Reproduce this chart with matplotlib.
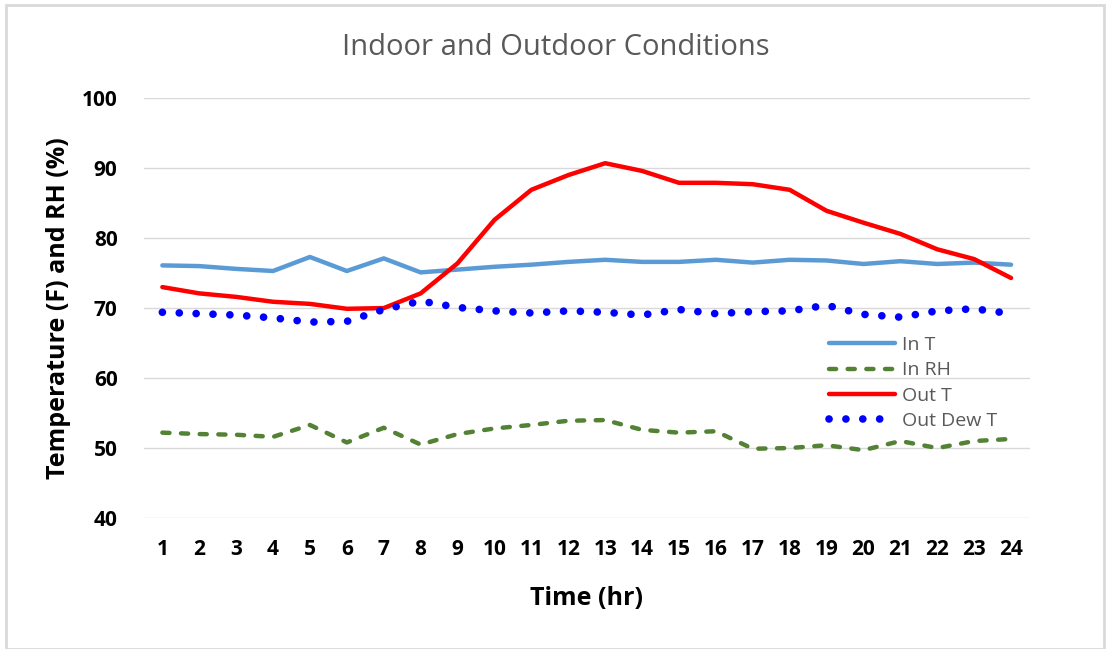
import matplotlib
matplotlib.use("Agg")
import matplotlib.pyplot as plt
from matplotlib.patches import Rectangle

hours = list(range(1, 25))
in_t = [76.1, 76.0, 75.6, 75.3, 77.3, 75.3, 77.1, 75.1, 75.5, 75.9, 76.2, 76.6,
        76.9, 76.6, 76.6, 76.9, 76.5, 76.9, 76.8, 76.3, 76.7, 76.3, 76.5, 76.2]
in_rh = [52.2, 52.0, 51.9, 51.6, 53.3, 50.8, 52.9, 50.5, 52.0, 52.8, 53.3, 53.9,
         54.0, 52.6, 52.2, 52.4, 49.9, 50.0, 50.4, 49.7, 51.0, 50.0, 51.0, 51.3]
out_t = [73.0, 72.1, 71.6, 70.9, 70.6, 69.9, 70.0, 72.1, 76.4, 82.6, 86.9, 89.0,
         90.7, 89.6, 87.9, 87.9, 87.7, 86.9, 83.9, 82.2, 80.6, 78.4, 77.0, 74.3]
out_dew = [69.4, 69.2, 69.0, 68.6, 68.0, 68.1, 69.8, 71.0, 70.1, 69.6, 69.3, 69.6,
           69.4, 69.0, 69.8, 69.2, 69.5, 69.6, 70.4, 69.1, 68.7, 69.6, 69.9, 69.2]
yticks = [40, 50, 60, 70, 80, 90, 100]

plt.rcParams['font.family'] = ['Open Sans', 'DejaVu Sans']

fig = plt.figure(figsize=(11.07, 6.49), dpi=100)
fig.patches.append(Rectangle((6/1107, 0.0), (1104-6)/1107, 1 - 5/649,
                             transform=fig.transFigure, fill=False,
                             edgecolor='#d9d9d9', linewidth=2))
ax = fig.add_axes([0.130, 0.2018, 0.800, 0.647])

ax.plot(hours, in_t, color='#5b9bd5', lw=3.2, label='In T', solid_capstyle='round')
ax.plot(hours, in_rh, color='#548235', lw=3.2, ls=(0, (1.6, 2.6)), label='In RH',
        dash_capstyle='round')
ax.plot(hours, out_t, color='#ff0000', lw=3.2, label='Out T', solid_capstyle='round')
ax.plot(hours, out_dew, color='#0000ff', lw=5.5, ls=(0, (0.01, 2.2)), label='Out Dew T',
        dash_capstyle='round')

ax.set_xlim(0.5, 24.5)
ax.set_ylim(40, 100)
ax.set_yticks(yticks)
ax.set_xticks(hours)
ax.grid(axis='y', color='#d9d9d9', lw=1)
ax.set_axisbelow(True)
for s in ax.spines.values():
    s.set_visible(False)
ax.tick_params(length=0, labelsize=15)
ax.tick_params(axis='x', pad=15)
ax.tick_params(axis='y', pad=19)
for lab in ax.get_xticklabels() + ax.get_yticklabels():
    lab.set_fontweight('bold')
ax.set_xlabel('Time (hr)', fontsize=18, fontweight='bold', labelpad=19)
ax.set_ylabel('Temperature (F) and RH (%)', fontsize=18, fontweight='bold', labelpad=8)
fig.text(0.502, 0.927, 'Indoor and Outdoor Conditions', ha='center', va='center',
         fontsize=21, color='#595959')

leg = ax.legend(loc='upper left', bbox_to_anchor=(0.765, 0.452), frameon=False,
                fontsize=14, handlelength=3.4, labelspacing=0.38, handletextpad=0.35,
                borderaxespad=0)
for t in leg.get_texts():
    t.set_color('#595959')

fig.savefig('out.png', dpi=100)
